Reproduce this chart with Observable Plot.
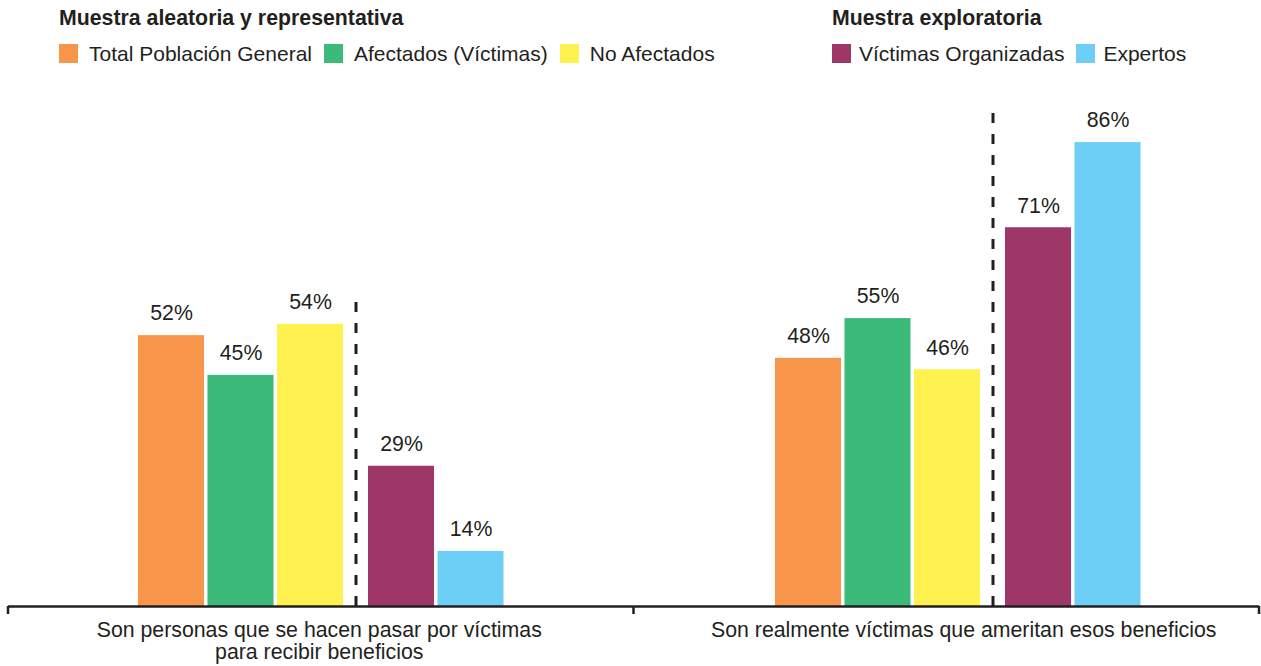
<!DOCTYPE html>
<html>
<head>
<meta charset="utf-8">
<script src="https://cdn.jsdelivr.net/npm/d3@7"></script>
<script src="https://cdn.jsdelivr.net/npm/@observablehq/plot@0.6"></script>
<style>
  html, body { margin: 0; padding: 0; background: #fff; }
  body { font-family: "Liberation Sans", Arial, Helvetica, sans-serif; color: #231f20; width: 1261px; height: 666px; overflow: hidden; }
  #legend { position: relative; width: 1261px; height: 80px; }
  .block { position: absolute; top: 0; }
  .ltitle { position: absolute; top: 8px; left: 0; font-weight: bold; font-size: 21.3px; line-height: 21px; white-space: nowrap; }
  .lrow { position: absolute; top: 44px; left: 0; display: flex; align-items: center; height: 19px; white-space: nowrap; }
  .sw { width: 19px; height: 19px; flex: none; }
  .lt { font-size: 21px; line-height: 19px; }
  .b0 .sw { margin-right: 11px; } .b0 .lt { margin-right: 12px; }
  .b1 .sw { margin-right: 8px; }  .b1 .lt { margin-right: 12px; }
  #chart svg { display: block; }
</style>
</head>
<body>
<div id="legend"></div>
<div id="chart"></div>
<script>
// ---- Data ----
const questions = [
  "Son personas que se hacen pasar por víctimas\npara recibir beneficios",
  "Son realmente víctimas que ameritan esos beneficios"
];
const groups = ["Total Población General", "Afectados (Víctimas)", "No Afectados", "Víctimas Organizadas", "Expertos"];
const sampleNames = ["Muestra aleatoria y representativa", "Muestra exploratoria"];
const groupSample = [0, 0, 0, 1, 1];
const valuesQ1 = [52, 45, 54, 29, 14];
const valuesQ2 = [48, 55, 46, 71, 86];
const colors = ["#f7954a", "#3bba7a", "#fff250", "#9e3668", "#6dcff6"];

// ---- Layout / style ----
const ink = "#231f20";
const yBase = 4.3;
const sampleShift = [-10.75, 10.75];   // gap between the two samples
const facetShift = [0, 11.5];          // cluster offset inside each panel
const labelShift = [-2, 17];           // category label offset inside each panel
const fs = 21.3;

const rows = [];
[valuesQ1, valuesQ2].forEach((vals, qi) => {
  groups.forEach((g, gi) => rows.push({qi, si: groupSample[gi], question: questions[qi], group: g, sample: sampleNames[groupSample[gi]], value: vals[gi]}));
});

// ---- Legend (HTML) ----
const legend = d3.select("#legend");
const lefts = [59, 832];
sampleNames.forEach((s, si) => {
  const b = legend.append("div").attr("class", "block b" + si).style("left", lefts[si] + "px");
  b.append("div").attr("class", "ltitle").text(s);
  const r = b.append("div").attr("class", "lrow");
  groups.forEach((g, gi) => {
    if (groupSample[gi] !== si) return;
    r.append("div").attr("class", "sw").style("background", colors[gi]);
    r.append("div").attr("class", "lt").text(g);
  });
});

// ---- Marks ----
const marks = [];
questions.forEach((q, qi) => {
  sampleNames.forEach((s, si) => {
    const sub = rows.filter(d => d.qi === qi && d.si === si);
    const dx = sampleShift[si] + facetShift[qi];
    marks.push(Plot.barY(sub, {fx: "question", x: "group", y1: yBase, y2: "value", fill: "group", dx}));
    marks.push(Plot.text(sub, {fx: "question", x: "group", y: "value", text: d => `${d.value}%`, dy: -22, dx, fontSize: fs, fill: ink}));
  });
  const top = d3.max(rows.filter(d => d.qi === qi), d => d.value) + 5.5;
  marks.push(Plot.ruleX([{question: q, top}], {fx: "question", x: () => groups[2], y1: yBase, y2: "top", dx: 34.75 + facetShift[qi], stroke: ink, strokeWidth: 3, strokeDasharray: "10,11"}));
  marks.push(Plot.text([q], {fx: d => d, text: d => d, frameAnchor: "bottom", lineAnchor: "top", dy: 15, dx: labelShift[qi], fontSize: fs, lineHeight: 1.04, fill: ink}));
});
marks.push(Plot.ruleY([yBase], {stroke: ink, strokeWidth: 2.5}));

const plot = Plot.plot({
  width: 1261,
  height: 586,
  marginLeft: 8,
  marginRight: 2,
  marginTop: 28,
  marginBottom: 60,
  style: {fontFamily: "'Liberation Sans', Arial, Helvetica, sans-serif", fontSize: "21px", color: ink, background: "#fff"},
  fx: {domain: questions, padding: 0, axis: null, round: false},
  x: {domain: groups, paddingInner: 0.05, paddingOuter: 2.025, axis: null, round: false},
  y: {domain: [yBase, 92], axis: null},
  color: {domain: groups, range: colors},
  marks
});

// boundary ticks from the fx scale
const fx = plot.scale("fx");
const ys = plot.scale("y");
const yb = ys.apply(yBase);
const tickXs = [fx.apply(questions[0]), ...questions.map(q => fx.apply(q) + fx.bandwidth)];
d3.select(plot).append("g")
  .selectAll("line").data(tickXs).join("line")
  .attr("x1", d => d).attr("x2", d => d)
  .attr("y1", yb).attr("y2", yb + 8)
  .attr("stroke", ink).attr("stroke-width", 2.5);

document.getElementById("chart").appendChild(plot);
</script>
</body>
</html>
